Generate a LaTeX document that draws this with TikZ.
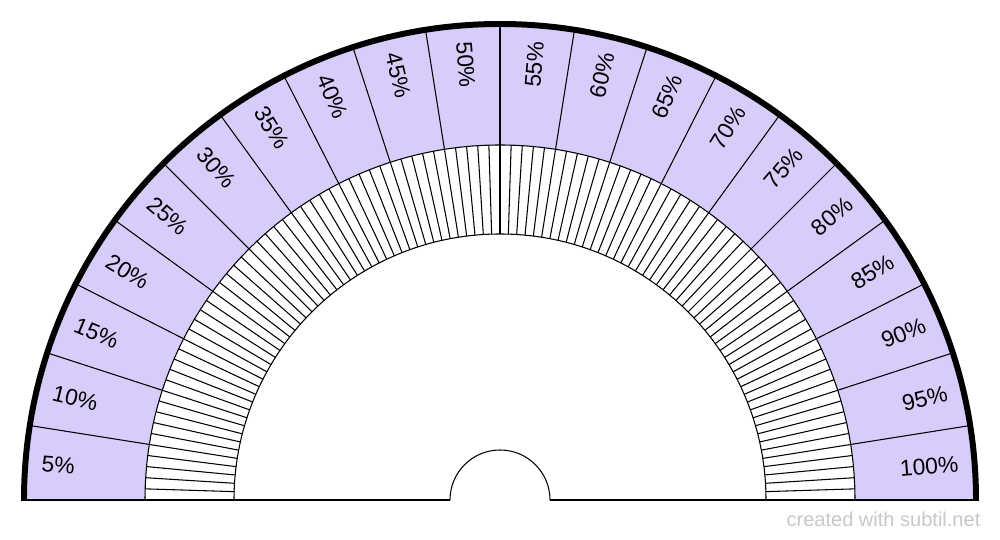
\documentclass[tikz,border=0pt]{standalone}
\usepackage{fontspec}
\setmainfont{Liberation Sans}
\definecolor{lavender}{RGB}{215,204,250}
\definecolor{baseline}{RGB}{120,120,120}
\definecolor{credit}{RGB}{200,200,200}

\begin{document}
\begin{tikzpicture}[x=0.02cm, y=0.02cm,
  thin line/.style = {draw=black, line width=0.6pt},
  pct label/.style = {font=\fontsize{13}{13}\selectfont, inner sep=0pt}]
  \useasboundingbox (0,0) rectangle (1000,540);
  \begin{scope}[shift={(500,40)}]
    \fill[lavender] (-476,0) arc (180:0:476) -- (355,0) arc (0:180:355) -- cycle;
    \foreach \k in {1,...,19}
      \draw[thin line] (180-9*\k:355) -- (180-9*\k:476);
    \foreach \k in {1,...,99}
      \draw[thin line] (1.8*\k:266) -- (1.8*\k:355);
    \draw[thin line] (355,0) arc (0:180:355);
    \draw[thin line] (266,0) arc (0:180:266);
    \draw[thin line] (50,0) arc (0:180:50);
    \draw[baseline, line width=0.9pt] (-479,0) -- (-50,0);
    \draw[baseline, line width=0.9pt] (50,0) -- (479,0);
    \draw[line width=3.4pt] (476,0) arc (0:180:476);
    \foreach \k in {1,...,20} {
      \pgfmathsetmacro{\ang}{184.5-9*\k}
      \pgfmathtruncatemacro{\pct}{5*\k}
      \ifnum\k<11
        \node[pct label, anchor=west, rotate=\ang-180] (pct\k) at (\ang:460) {\pct\%};
      \else
        \node[pct label, anchor=east, rotate=\ang] (pct\k) at (\ang:460) {\pct\%};
      \fi
    }
  \end{scope}
  \node[font=\fontsize{11.4}{12}\selectfont, text=credit] (credit) at (883.5,21) {created with subtil.net};
\end{tikzpicture}
\end{document}
